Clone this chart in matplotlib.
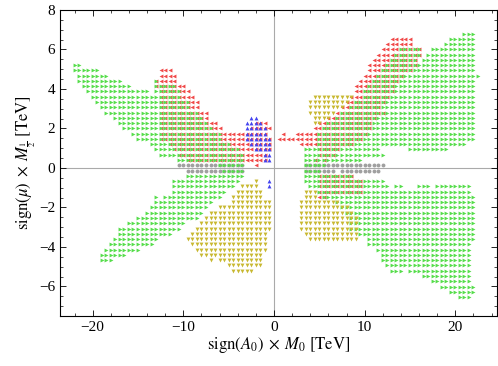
import numpy as np
import matplotlib
matplotlib.use("Agg")
import matplotlib.pyplot as plt
from matplotlib.ticker import MultipleLocator

plt.rcParams['font.family'] = ['Liberation Serif', 'DejaVu Serif']
plt.rcParams['mathtext.fontset'] = 'stix'

# scan grid: x in TeV steps of 0.5, rows in M_1/2 indexed by j
DX = 0.5
DY = 0.267

# rows: (j, x_start, x_end) -- several tuples per j where a row has gaps
green_rows = [
    (19, -22, -21.5), (18, -22, -19.5), (17, -21.5, -18.5),
    (16, -21.5, -17), (16, -13, -13), (15, -21, -16), (15, -13, -11),
    (14, -20.5, -14), (14, -13, -10.5), (13, -20, -10.5), (12, -19.5, -9.5),
    (11, -19, -9.5), (10, -18.5, -8.5), (9, -17.5, -8), (8, -17, -7.5),
    (7, -16.5, -7), (6, -15.5, -6), (5, -15, -6), (4, -13.5, -5),
    (3, -13, -4), (2, -12.5, -3.5), (1, -10.5, -3.5),
    (0, -6, -3.5), (-1, -5.5, -3.5),
    (-2, -9.5, -3.5), (-3, -11, -4), (-4, -11, -4.5), (-5, -11, -5.5),
    (-6, -13, -13), (-6, -12, -6), (-7, -13, -7), (-8, -13.5, -7.5),
    (-9, -14, -8), (-10, -15, -8.5), (-11, -16, -10), (-12, -17, -10.5),
    (-13, -17, -11.5), (-14, -17.5, -13), (-15, -18, -13.5),
    (-16, -18.5, -15), (-17, -19, -16.5), (-18, -19, -18),
    # right half
    (25, 21, 22), (24, 19.5, 22), (23, 19, 22), (22, 14, 16), (22, 17.5, 22),
    (21, 13.5, 16), (21, 17, 22), (20, 13, 15.5), (20, 16.5, 22),
    (19, 12.5, 22), (18, 12, 22), (17, 11.5, 22.5), (16, 11, 22),
    (15, 10.5, 22), (14, 10, 22), (13, 10, 22), (12, 9, 22), (11, 8.5, 22),
    (10, 7.5, 22), (9, 7, 22), (8, 6, 22), (7, 5.5, 22), (6, 5, 22),
    (5, 5, 22), (4, 5, 21), (3, 3.5, 11.5), (3, 15, 19), (2, 3.5, 12),
    (1, 3.5, 9.5), (0, 3.5, 5.5), (-1, 3.5, 5),
    (-2, 3.5, 8.5), (-3, 3.5, 12), (-4, 4, 12.5), (-4, 13.5, 14),
    (-4, 16, 17), (-4, 18, 21.5), (-5, 5, 21.5), (-6, 5.5, 22),
    (-7, 7, 22), (-8, 7.5, 22), (-9, 8, 22), (-10, 8.5, 22), (-11, 8.5, 22),
    (-12, 8.5, 22), (-13, 9.5, 22), (-14, 10.5, 22), (-15, 10.5, 21.5),
    (-16, 11.5, 21.5), (-17, 12, 21.5), (-18, 12, 21.5), (-19, 12.5, 21.5),
    (-20, 13, 14), (-20, 15, 21.5), (-21, 16.5, 21.5), (-22, 17.5, 21.5),
    (-23, 18.5, 22), (-24, 19.5, 22), (-25, 20.5, 21.5),
]

red_rows = [
    (18, -12.5, -11.5), (17, -12.5, -11), (16, -13, -11), (15, -13, -10),
    (14, -12.5, -9.5), (13, -12.5, -9), (12, -12.5, -8.5), (11, -12.5, -8.5),
    (10, -12.5, -7.5), (9, -12.5, -7.5), (8, -12.5, -6.5), (8, -2, -1),
    (7, -12.5, -6), (7, -2.5, -0.5), (6, -12.5, -1), (5, -12.5, -0.5),
    (4, -11.5, -0.5), (3, -11, -0.5), (2, -10.5, -1), (1, -9.5, -1),
    (0, -2, -2),
    (24, 13, 15), (23, 12.5, 15), (22, 12, 16), (21, 11.5, 16),
    (20, 11, 15.5), (19, 10.5, 15.5), (18, 10.5, 15), (17, 10, 14),
    (16, 9.5, 13.5), (15, 9, 13), (14, 9, 13), (13, 8.5, 12.5), (12, 8, 12),
    (11, 7.5, 11.5), (10, 7, 12), (9, 6, 11), (8, 5, 10.5), (7, 4.5, 10.5),
    (6, 1, 1), (6, 2.5, 10), (5, 0.5, 9.5), (4, 3, 8.5), (3, 5, 7),
    (2, 5, 6.5), (1, 4.5, 4.5), (1, 5.5, 5.5),
    (-2, 5, 8.5), (-3, 5, 9.5), (-4, 5, 9.5), (-5, 5, 9.5), (-6, 5, 5.5),
]

yellow_rows = [
    (13, 4.5, 8.5), (12, 4, 8), (11, 4, 7.5), (10, 4, 6.5), (9, 4.5, 6),
    (8, 4.5, 5),
    (-5, 3.5, 4.5), (-6, 3.5, 4.5), (-7, 3, 7), (-8, 3, 8), (-9, 3, 8.5),
    (-10, 3, 9), (-11, 3, 9), (-12, 3, 9), (-13, 3.5, 9), (-14, 4, 9),
    (-3, -2, -2), (-4, -3.5, -2), (-5, -4, -1.5), (-6, -4.5, -1.5),
    (-7, -4.5, -0.5), (-8, -6, -0.5), (-9, -7, -0.5), (-10, -7.5, -0.5),
    (-11, -8, -0.5), (-12, -8.5, -0.5), (-13, -9, -1), (-14, -9.5, -1),
    (-15, -9, -1), (-16, -8.5, -1), (-17, -8, -1.5), (-18, -7, -7),
    (-18, -6, -1.5), (-19, -5, -1.5), (-20, -4.5, -2.5),
]

blue_rows = [
    (9, -2.5, -2), (8, -3, -1.5), (7, -3, -1), (6, -3, -1), (5, -3, -0.5),
    (4, -2.5, -0.5), (3, -2, -0.5), (2, -1, -0.5), (1, -1, -0.5),
    (-3, -0.5, -0.5), (-4, -0.5, -0.5),
]

gray_rows = [
    (0, -10.5, -3.5), (-1, -9.5, -3.5),
    (0, 3.5, 12), (-1, 3.5, 6.5), (-1, 7.5, 11.5),
]


def cells(rows):
    xs, ys = [], []
    for j, x0, x1 in rows:
        xr = np.arange(x0, x1 + DX / 2, DX)
        xs.extend(xr)
        ys.extend([(j + 0.5) * DY] * len(xr))
    return np.array(xs), np.array(ys)


fig = plt.figure(figsize=(4.98, 3.66), dpi=100)
ax = fig.add_axes([0.1205, 0.1366, 0.8775, 0.8361])

ax.axhline(0, color='#aaaaaa', lw=0.8, zorder=0)
ax.axvline(0, color='#aaaaaa', lw=0.8, zorder=0)

ms = 2.8
series = [
    (gray_rows, 'o', '#a0a0a0'),
    (red_rows, '<', '#f04848'),
    (green_rows, '>', '#55dd4a'),
    (yellow_rows, 'v', '#c8b830'),
    (blue_rows, '^', '#4444f0'),
]
for rows, mk, col in series:
    x, y = cells(rows)
    ax.plot(x, y, linestyle='none', marker=mk, ms=ms, mfc=col, mec='none')

ax.set_xlim(-23.6, 24.6)
ax.set_ylim(-7.5, 8.0)
ax.xaxis.set_major_locator(MultipleLocator(10))
ax.xaxis.set_minor_locator(MultipleLocator(2))
ax.yaxis.set_major_locator(MultipleLocator(2))
ax.yaxis.set_minor_locator(MultipleLocator(0.5))
ax.tick_params(which='both', direction='in', top=True, right=True,
               labelsize=11)
ax.tick_params(which='major', length=4, width=0.6)
ax.tick_params(which='minor', length=2, width=0.5)
for s in ax.spines.values():
    s.set_linewidth(0.8)

ax.set_xlabel(r'$\mathrm{sign}(A_0)\;\times\;M_0\ [\mathrm{TeV}]$',
              fontsize=12, labelpad=1)
ax.set_ylabel(r'$\mathrm{sign}(\mu)\;\times\;M_{\frac{1}{2}}\ [\mathrm{TeV}]$',
              fontsize=12, labelpad=1)

fig.savefig('out.png', dpi=100)
